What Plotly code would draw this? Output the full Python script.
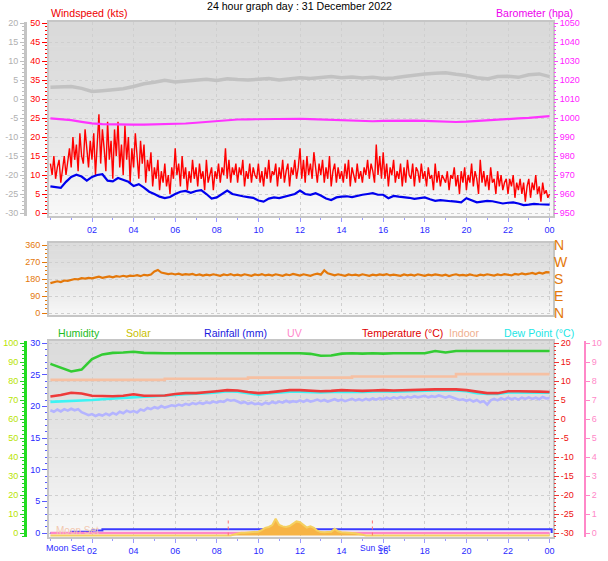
import plotly.graph_objects as go

# ------------------------------------------------------------------ data
title_text = "24 hour graph day : 31 December 2022"
hour_ticks = [2, 4, 6, 8, 10, 12, 14, 16, 18, 20, 22, 24]
hour_labels = ["02", "04", "06", "08", "10", "12", "14", "16", "18", "20", "22", "00"]

# wind gust (kts), every 5 minutes 00:00 .. 24:00
gust_5min = [
    13, 10, 15, 9, 12, 14, 8, 11, 15, 10, 13, 17,
    12, 20, 14, 18, 11, 21, 15, 13, 22, 16, 12, 19,
    14, 21, 10, 18, 26, 13, 22, 17, 11, 24, 14, 19,
    9, 22, 15, 24, 12, 18, 10, 23, 14, 20, 8, 17,
    12, 21, 15, 9, 19, 13, 18, 8, 14, 11, 16, 7,
    12, 9, 14, 6, 11, 8, 13, 7, 10, 5, 12, 9,
    17, 10, 13, 7, 15, 9, 12, 6, 11, 8, 14, 9,
    12, 7, 13, 9, 11, 6, 14, 8, 10, 12, 6, 11,
    9, 13, 8, 12, 10, 17, 9, 14, 8, 12, 10, 13,
    8, 12, 10, 14, 7, 11, 9, 13, 8, 12, 10, 9,
    13, 8, 11, 7, 12, 9, 14, 8, 11, 10, 13, 7,
    12, 9, 14, 8, 11, 13, 7, 12, 10, 14, 9, 12,
    17, 9, 14, 8, 15, 10, 13, 9, 16, 11, 8, 13,
    10, 14, 8, 12, 9, 15, 7, 11, 13, 8, 12, 9,
    11, 8, 13, 9, 14, 7, 12, 10, 8, 13, 9, 11,
    8, 12, 10, 14, 9, 13, 11, 8, 18, 10, 15, 9,
    16, 9, 13, 7, 12, 10, 14, 8, 11, 9, 13, 7,
    12, 8, 14, 10, 9, 13, 7, 12, 11, 8, 13, 9,
    11, 7, 12, 9, 10, 6, 13, 8, 11, 7, 10, 9,
    8, 11, 6, 10, 9, 12, 7, 10, 5, 11, 8, 12,
    6, 10, 8, 13, 7, 11, 9, 5, 14, 8, 11, 7,
    10, 6, 12, 8, 9, 5, 11, 7, 10, 6, 8, 9,
    5, 9, 7, 10, 4, 8, 6, 9, 5, 8, 3, 7,
    9, 4, 8, 6, 10, 5, 7, 3, 8, 5, 6, 4,
    5,
]

# average wind speed (kts), every 15 minutes
avg_15min = [
    7.0, 6.8, 6.6, 8.2, 9.5, 10.1, 9.6, 8.5, 9.5, 10.0, 10.2, 8.5,
    8.3, 9.2, 8.8, 8.2, 7.1, 7.6, 6.7, 5.6, 5.0, 4.3, 3.9, 4.2,
    5.0, 5.6, 5.8, 5.3, 5.8, 6.0, 5.0, 3.8, 4.1, 5.0, 5.9, 5.0,
    4.6, 4.4, 4.2, 4.0, 3.3, 3.0, 3.8, 4.1, 3.9, 4.2, 4.5, 5.0,
    5.9, 5.0, 4.8, 5.2, 4.6, 3.8, 3.4, 4.1, 4.3, 4.4, 4.2, 4.6,
    4.8, 5.0, 5.2, 4.8, 4.8, 3.9, 4.5, 4.3, 4.2, 4.0, 3.7, 3.9,
    4.1, 3.6, 3.2, 3.4, 3.2, 3.1, 3.0, 2.8, 3.9, 3.3, 2.8, 3.0,
    3.2, 3.1, 2.8, 2.5, 2.7, 2.8, 2.5, 2.1, 2.2, 2.4, 2.3, 2.2,
    2.2,
]

# grey trace read on the left grey scale, every 30 minutes
grey_30min = [
    3.1, 3.2, 3.3, 2.8, 2.0, 2.2, 2.5, 2.7, 3.3, 4.0, 4.4, 4.9,
    4.5, 4.8, 5.0, 5.2, 4.9, 5.3, 5.1, 5.0, 5.2, 5.4, 5.0, 5.3,
    5.6, 5.4, 5.7, 5.9, 5.6, 5.8, 5.5, 5.7, 5.4, 5.5, 5.9, 6.3,
    6.6, 6.8, 6.9, 6.5, 6.2, 5.6, 5.3, 5.9, 6.0, 5.7, 6.4, 6.6,
    5.9,
]

# barometer (hPa), every 30 minutes
baro_30min = [
    999.8, 999.5, 998.9, 998.0, 997.2, 996.8, 996.6, 996.5, 996.5, 996.5,
    996.6, 996.7, 996.8, 997.1, 997.5, 998.0, 998.5, 998.9, 999.2, 999.3,
    999.4, 999.5, 999.6, 999.8, 999.6, 999.4, 999.2, 999.0, 998.9, 998.6,
    998.4, 998.3, 998.5, 998.6, 998.7, 998.6, 998.5, 998.3, 998.0, 997.9,
    998.1, 998.5, 998.8, 999.1, 999.5, 999.8, 1000.1, 1000.5, 1001.0,
]

# wind direction (degrees), every 10 minutes
dir_10min = [
    158, 162, 168, 164, 172, 170,
    176, 180, 178, 184, 182, 186,
    183, 188, 192, 186, 190, 194,
    189, 195, 192, 197, 193, 198,
    196, 200, 195, 202, 199, 204,
    220, 228, 214, 210, 206, 209,
    204, 208, 202, 206, 203, 207,
    200, 204, 198, 203, 199, 205,
    201, 197, 204, 200, 206, 199,
    203, 198, 205, 201, 197, 204,
    200, 206, 199, 203, 198, 205,
    202, 197, 204, 200, 207, 201,
    198, 205, 201, 197, 204, 208,
    203, 226, 210, 204, 199, 205,
    201, 197, 204, 200, 203, 198,
    205, 200, 197, 203, 199, 204,
    201, 206, 199, 203, 200, 197,
    204, 199, 203, 198, 205, 201,
    197, 203, 199, 204, 200, 198,
    203, 196, 201, 205, 199, 202,
    198, 204, 200, 197, 203, 199,
    205, 201, 198, 204, 200, 206,
    202, 199, 207, 203, 210, 205,
    208, 212, 206, 214, 209, 216,
    215,
]

# humidity (%), every 30 minutes
humidity_30min = [
    89.0, 87.0, 85.0, 86.0, 91.5, 94.0, 94.8, 95.0, 95.4, 94.8,
    94.6, 94.6, 94.6, 94.6, 94.6, 94.7, 94.6, 94.6, 94.5, 94.6,
    94.6, 94.4, 94.6, 94.4, 94.6, 94.3, 93.3, 93.4, 94.4, 94.6,
    94.4, 94.6, 94.4, 94.6, 94.6, 94.6, 94.6, 95.8, 95.0, 95.8,
    95.8, 95.8, 95.8, 95.8, 95.8, 95.8, 95.8, 95.8, 95.8,
]

# indoor temperature (C), every 30 minutes
indoor_30min = [
    10.3, 10.3, 10.3, 10.3, 10.3, 10.3, 10.3, 10.3, 10.3, 10.3, 10.3,
    10.6, 10.6, 10.6, 10.6, 10.6, 10.6, 10.6, 10.6,
    10.9, 10.9, 10.9, 10.9, 10.9, 10.9, 10.9, 10.9, 10.9, 10.9,
    11.2, 11.2, 11.2, 11.2, 11.2, 11.2, 11.2, 11.2, 11.2, 11.2,
    11.8, 11.8, 11.8, 11.8, 11.8, 11.8, 11.8, 11.8, 11.8, 11.8,
]

# outdoor temperature (C), every 30 minutes
temp_30min = [
    5.9, 6.3, 6.9, 6.7, 6.1, 6.0, 6.0, 6.1, 6.5, 6.1, 6.1, 6.2,
    6.6, 6.8, 6.8, 7.0, 7.3, 7.6, 7.5, 7.1, 6.8, 7.0, 7.3, 7.6,
    7.6, 7.5, 7.3, 7.4, 7.6, 7.5, 7.4, 7.5, 7.6, 7.5, 7.6, 7.7,
    7.8, 7.8, 7.8, 7.8, 7.6, 7.1, 6.8, 6.8, 7.3, 7.3, 7.3, 7.2,
    7.1,
]

# dew point (C), every 30 minutes
dew_30min = [
    4.5, 4.6, 4.8, 4.9, 5.0, 5.2, 5.4, 5.6, 5.8, 5.9, 6.0, 6.1,
    6.3, 6.5, 6.6, 6.8, 7.0, 7.3, 7.2, 6.8, 6.4, 6.7, 7.0, 7.2,
    7.2, 7.1, 7.0, 7.1, 7.2, 7.2, 7.1, 7.2, 7.3, 7.2, 7.3, 7.4,
    7.5, 7.5, 7.5, 7.5, 7.3, 6.8, 6.6, 6.6, 7.0, 7.0, 7.0, 6.9,
    6.9,
]

# lavender trace (C), every 10 minutes
feel_10min = [
    2.3, 1.9, 2.5, 2.0, 2.6, 2.2,
    2.7, 2.3, 2.6, 1.8, 1.4, 1.0,
    1.3, 0.8, 1.2, 0.9, 1.4, 1.0,
    1.6, 1.2, 1.9, 1.5, 2.2, 1.8,
    2.1, 1.7, 2.5, 2.2, 2.9, 2.6,
    3.1, 2.8, 3.4, 3.0, 3.3, 3.6,
    3.4, 3.8, 3.5, 4.0, 3.7, 4.2,
    3.9, 4.3, 4.0, 4.4, 4.2, 4.6,
    4.3, 4.7, 4.5, 5.1, 4.8, 5.0,
    4.6, 4.2, 4.5, 4.0, 4.3, 3.9,
    4.1, 3.8, 4.3, 4.0, 4.5, 4.2,
    4.6, 4.3, 4.8, 4.4, 4.7, 4.5,
    4.9, 4.5, 5.0, 4.6, 4.8, 5.1,
    4.7, 5.0, 4.6, 4.9, 5.2, 4.8,
    5.1, 4.7, 5.0, 5.3, 4.9, 5.2,
    4.9, 5.3, 5.0, 5.4, 5.1, 5.5,
    5.2, 5.6, 5.3, 5.7, 5.4, 5.8,
    5.5, 5.9, 5.6, 6.0, 5.7, 5.9,
    6.1, 5.7, 6.0, 5.8, 6.2, 5.9,
    5.6, 6.0, 5.7, 5.3, 5.0, 5.2,
    4.8, 5.1, 4.6, 5.0, 4.4, 4.7,
    3.8, 4.9, 5.3, 4.9, 5.5, 5.1,
    5.6, 5.2, 5.5, 5.1, 5.6, 5.3,
    5.7, 5.3, 5.6, 5.2, 5.8, 5.4,
    5.5,
]

# rainfall (mm)
rain_hours = [0.0, 0.5, 1.0, 1.5, 2.0, 2.5, 23.95, 24.1]
rain_mm = [0.0, 0.0, 0.2, 0.2, 0.4, 0.6, 0.6, 0.0]

# UV index
uv_hours = [0.0, 24.0]
uv_index = [0.0, 0.0]

# solar radiation (W/m2)
solar_hours = [0.0, 8.67, 8.83, 9.0, 9.17, 9.33, 9.5, 9.67, 9.83, 10.0, 10.17,
               10.33, 10.5, 10.67, 10.83, 11.0, 11.17, 11.33, 11.5, 11.67,
               11.83, 12.0, 12.17, 12.33, 12.5, 12.67, 12.83, 13.0, 13.17,
               13.33, 13.5, 13.67, 13.83, 14.0, 14.17, 14.33, 14.5, 14.67,
               14.83, 15.0, 15.17, 24.0]
solar_wm2 = [0, 0, 5, 12, 15, 15, 16, 17, 17, 20, 30,
             40, 45, 55, 88, 55, 48, 45, 50, 62,
             74, 70, 55, 42, 48, 40, 25, 18, 17,
             17, 20, 35, 22, 17, 16, 16, 15, 12,
             8, 4, 0, 0]

# sunrise / sunset markers (hours)
sun_marks = [8.55, 15.48]

# ------------------------------------------------------------------ geometry / style
W, H = 608, 561
FONT = "Liberation Sans"

def hrs(n):
    return [24.0 * i / (n - 1) for i in range(n)]

def px(x):
    return x / W

def py(y):
    return 1 - y / H

# plot frames (pixels)
L, R = 49, 553
TOP = (22, 216)
MID = (243, 315)
BOT = (341, 537)

X0_PX, X_SCALE = 50.4, 20.8
x_range = [(L - X0_PX) / X_SCALE, (R - X0_PX) / X_SCALE]

def yrange(frame, v0, p0, s):
    t, b = frame
    return [v0 - (b - p0) / s, v0 + (p0 - t) / s]

fig = go.Figure()

RED = "#ff0000"
BLUE = "#0000ee"
GREY = "#c2c2c2"
MAG = "#ff33ff"
ORANGE = "#e4780a"
GREEN = "#33cc33"
PEACH = "#f6c0a2"
TRED = "#ee3a3a"
CYAN = "#3cf4f4"
LAV = "#b4b4ff"
RAIN = "#3b3bff"
UVC = "#ff88c8"
SOLAR = "#f7b445"

# --- top panel
fig.add_trace(go.Scatter(x=hrs(len(grey_30min)), y=grey_30min, yaxis="y2", xaxis="x",
                         mode="lines", line=dict(color=GREY, width=3.5)))
fig.add_trace(go.Scatter(x=hrs(len(gust_5min)), y=gust_5min, yaxis="y", xaxis="x",
                         mode="lines", line=dict(color=RED, width=1.4)))
fig.add_trace(go.Scatter(x=hrs(len(avg_15min)), y=avg_15min, yaxis="y", xaxis="x",
                         mode="lines", line=dict(color=BLUE, width=2.2)))
fig.add_trace(go.Scatter(x=hrs(len(baro_30min)), y=baro_30min, yaxis="y3", xaxis="x",
                         mode="lines", line=dict(color=MAG, width=2.2)))
# --- middle panel
fig.add_trace(go.Scatter(x=hrs(len(dir_10min)), y=dir_10min, yaxis="y4", xaxis="x2",
                         mode="lines", line=dict(color=ORANGE, width=2.2)))
fig.add_trace(go.Scatter(x=[None], y=[None], xaxis="x2", yaxis="y5"))
# --- bottom panel
fig.add_trace(go.Scatter(x=hrs(len(feel_10min)), y=feel_10min, yaxis="y8", xaxis="x3",
                         mode="lines", line=dict(color=LAV, width=2.6)))
fig.add_trace(go.Scatter(x=hrs(len(indoor_30min)), y=indoor_30min, yaxis="y8", xaxis="x3",
                         mode="lines", line=dict(color=PEACH, width=2.6, shape="hv")))
fig.add_trace(go.Scatter(x=hrs(len(dew_30min)), y=dew_30min, yaxis="y8", xaxis="x3",
                         mode="lines", line=dict(color=CYAN, width=2.6)))
fig.add_trace(go.Scatter(x=hrs(len(temp_30min)), y=temp_30min, yaxis="y8", xaxis="x3",
                         mode="lines", line=dict(color=TRED, width=2.6)))
fig.add_trace(go.Scatter(x=hrs(len(humidity_30min)), y=humidity_30min, yaxis="y7", xaxis="x3",
                         mode="lines", line=dict(color=GREEN, width=2.6)))
fig.add_trace(go.Scatter(x=uv_hours, y=uv_index, yaxis="y9", xaxis="x3",
                         mode="lines", line=dict(color=UVC, width=2.5)))
fig.add_trace(go.Scatter(x=solar_hours, y=solar_wm2, yaxis="y10", xaxis="x3",
                         mode="lines", fill="tozeroy", fillcolor=SOLAR,
                         line=dict(color="#f5d060", width=2)))
for t in sun_marks:
    fig.add_trace(go.Scatter(x=[t, t], y=[0, 95], yaxis="y10", xaxis="x3", mode="lines",
                             line=dict(color="#ff7070", width=1, dash="dot")))
fig.add_trace(go.Scatter(x=rain_hours, y=rain_mm, yaxis="y6", xaxis="x3",
                         mode="lines", line=dict(color=RAIN, width=2, shape="hv")))

FRAME = "#c6c6c6"
GRID = "#cfcfcf"

def xax(anchor, labels=True):
    d = dict(domain=[px(L), px(R)], range=x_range, anchor=anchor,
             tickvals=hour_ticks, ticktext=hour_labels,
             showticklabels=labels, tickfont=dict(family=FONT, size=9, color="#2a2aff"),
             ticks="outside" if labels else "", ticklen=4, tickcolor="#9a9aff",
             showgrid=True, gridcolor=GRID, griddash="dot", gridwidth=1,
             showline=True, linecolor=FRAME, linewidth=2, mirror=True,
             zeroline=False, fixedrange=True, automargin=False)
    if labels:
        d["minor"] = dict(dtick=1, tick0=0, ticks="outside", ticklen=2, tickcolor="#9a9aff",
                          showgrid=False)
    return d

def tickaxis(color, fcolor, vals, texts, minor):
    return dict(tickvals=vals, ticktext=texts, ticks="outside", ticklen=5,
                tickcolor=color, tickfont=dict(family=FONT, size=9, color=fcolor),
                minor=dict(dtick=minor, ticks="outside", ticklen=2, tickcolor=color,
                           showgrid=False),
                zeroline=False, fixedrange=True, automargin=False)

def lbls(vals):
    return [str(v) for v in vals]

ws_vals = list(range(0, 51, 5))
grey_vals = list(range(-30, 21, 5))
baro_vals = list(range(950, 1051, 10))
dir_vals = [0, 90, 180, 270, 360]
compass_labels = ["N", "E", "S", "W", "N"]
rain_vals = list(range(0, 31, 5))
hum_vals = list(range(0, 101, 10))
temp_vals = list(range(-30, 21, 5))
uv_vals = list(range(0, 11))

layout = dict(
    width=W, height=H, margin=dict(l=0, r=0, t=0, b=0, pad=0), autosize=False,
    paper_bgcolor="white", plot_bgcolor="rgba(0,0,0,0)",
    showlegend=False, hovermode=False,
    xaxis=xax("y"),
    xaxis2=xax("y4", labels=False),
    xaxis3=xax("y6"),
)

# top panel axes
ya = tickaxis(RED, RED, ws_vals, lbls(ws_vals), 1)
ya.update(domain=[py(TOP[1]), py(TOP[0])], anchor="x", range=yrange(TOP, 0, 213, 3.8),
          showgrid=True, gridcolor=GRID, griddash="dot",
          showline=True, linecolor=FRAME, linewidth=2, mirror=True)
layout["yaxis"] = ya
ya2 = tickaxis("#bdbdbd", "#b0b0b0", grey_vals, lbls(grey_vals), 1)
ya2.update(overlaying="y", anchor="free", position=px(25), side="left", ticklen=4,
           range=yrange(TOP, -30, 213, 3.8), showgrid=False,
           showline=True, linecolor="#c4c4c4", linewidth=3)
layout["yaxis2"] = ya2
ya3 = tickaxis("#ff44ff", "#ff22ff", baro_vals, lbls(baro_vals), 2)
ya3.update(overlaying="y", anchor="x", side="right", ticklen=4,
           range=yrange(TOP, 950, 213, 1.9), showgrid=False, showline=False)
layout["yaxis3"] = ya3

# middle panel axes
ya4 = tickaxis(ORANGE, ORANGE, dir_vals, lbls(dir_vals), 22.5)
ya4.update(domain=[py(MID[1]), py(MID[0])], anchor="x2", range=yrange(MID, 0, 313, 68 / 360),
           showgrid=True, gridcolor=GRID, griddash="dot",
           showline=True, linecolor=FRAME, linewidth=2, mirror=True)
layout["yaxis4"] = ya4
layout["yaxis5"] = dict(overlaying="y4", anchor="x2", side="right",
                        range=yrange(MID, 0, 313, 68 / 360), tickvals=dir_vals,
                        ticktext=compass_labels, ticks="",
                        tickfont=dict(family=FONT, size=14, color=ORANGE),
                        showgrid=False, zeroline=False, showline=False, fixedrange=True,
                        automargin=False)

# bottom panel axes
ya6 = tickaxis("#5a5aff", "#2a2aff", rain_vals, lbls(rain_vals), 1)
ya6.update(domain=[py(BOT[1]), py(BOT[0])], anchor="x3", range=yrange(BOT, 0, 533, 190 / 30),
           showgrid=False, showline=True, linecolor=FRAME, linewidth=2, mirror=True)
layout["yaxis6"] = ya6
ya7 = tickaxis("#22cc22", "#b8e400", hum_vals, lbls(hum_vals), 2)
ya7.update(overlaying="y6", anchor="free", position=px(25), side="left", ticklen=4,
           range=yrange(BOT, 0, 533, 1.9), showgrid=True, gridcolor=GRID, griddash="dot",
           showline=True, linecolor="#22dd22", linewidth=3)
layout["yaxis7"] = ya7
ya8 = tickaxis("#ee3333", "#ee1111", temp_vals, lbls(temp_vals), 1)
ya8.update(overlaying="y6", anchor="x3", side="right",
           range=yrange(BOT, -30, 533, 3.8), showgrid=False, showline=False)
layout["yaxis8"] = ya8
ya9 = tickaxis(UVC, UVC, uv_vals, lbls(uv_vals), 1)
ya9.update(overlaying="y6", anchor="free", position=px(585), side="right", ticklen=4,
           range=yrange(BOT, 0, 533, 19), showgrid=False,
           showline=True, linecolor=UVC, linewidth=2)
ya9["minor"]["ticklen"] = 0
layout["yaxis9"] = ya9
layout["yaxis10"] = dict(overlaying="y6", anchor="x3", visible=False,
                         range=yrange(BOT, 0, 535.5, 0.19), fixedrange=True,
                         automargin=False)

fig.update_layout(**layout)

# ---- gradient backgrounds
def hexrgb(c):
    c = c.lstrip("#")
    return [int(c[i:i + 2], 16) for i in (0, 2, 4)]

def bands(frame, ctop, cbot, n=40, gamma=1.6):
    t, b = frame
    a, z = hexrgb(ctop), hexrgb(cbot)
    shapes = []
    for i in range(n):
        f = ((i + 0.5) / n) ** gamma
        col = "rgb(%d,%d,%d)" % tuple(round(a[k] + (z[k] - a[k]) * f) for k in range(3))
        y0 = t + (b - t) * i / n
        y1 = t + (b - t) * (i + 1) / n + 0.6
        shapes.append(dict(type="rect", xref="paper", yref="paper", layer="below",
                           x0=px(L), x1=px(R), y0=py(y1), y1=py(y0),
                           fillcolor=col, line=dict(width=0)))
    return shapes

shapes = bands(TOP, "#dadada", "#f9f9f9") + bands(MID, "#dcdcdc", "#f8f8f8") + \
    bands(BOT, "#dcdcdc", "#f9f9f9")
fig.update_layout(shapes=shapes)

# ---- text
TS = 10.6

def ann(text, x, y, color, size=TS, xanchor="left"):
    return dict(text=text, x=px(x), y=py(y), xref="paper", yref="paper",
                xanchor=xanchor, yanchor="middle", showarrow=False,
                font=dict(family=FONT, size=size, color=color))

annotations = [
    ann(title_text, 299, 6, "#000000", TS, "center"),
    ann("Windspeed (kts)", 49, 13, "#ee0000"),
    ann("Barometer (hpa)", 575, 12.5, "#ee00ee", TS, "right"),
    ann("Humidity", 56, 333, "#22bb22"),
    ann("Solar", 124, 333, "#c8c000"),
    ann("Rainfall (mm)", 202, 333, "#1a1ae0"),
    ann("UV", 285, 333, "#ff88cc"),
    ann("Temperature (°C)", 360, 333, "#e00000"),
    ann("Indoor", 447, 333, "#f0b090"),
    ann("Dew Point (°C)", 502, 333, "#22e6e6"),
    ann("Moon Set", 87, 548, "#2a2aff", 9, "right"),
    ann("Sun Set", 358, 548, "#2a2aff", 8.5, "left"),
    ann("Moon Set", 54, 530, "#f2c8b0", 10),
]
fig.update_layout(annotations=annotations)

fig.write_html("out.html",
               config={"displayModeBar": False, "staticPlot": True},
               post_script="document.body.style.margin='0';"
                           "document.documentElement.style.overflow='hidden';")
